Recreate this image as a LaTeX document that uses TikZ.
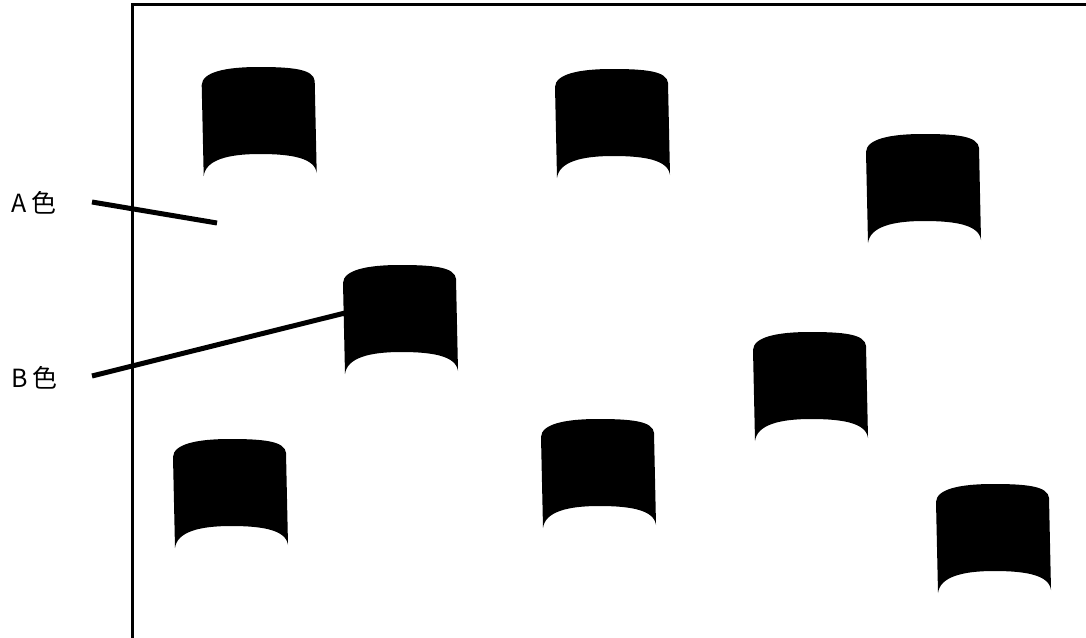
\documentclass[tikz,border=0pt]{standalone}
\usepackage{fontspec}
\newfontfamily\jpfont{Noto Sans CJK JP}
\begin{document}
\begin{tikzpicture}[x=1pt,y=-1pt,
  cup/.pic={\fill[black] (0,0) .. controls (0.5,-13) and (24,-18) .. (57,-18)
     .. controls (90,-18) and (112,-16) .. (113,-4) -- (115,88)
     .. controls (113,73) and (90,69) .. (58,69)
     .. controls (26,69) and (4,75) .. (2,91) -- cycle;},
  lbl/.style={font=\jpfont\fontsize{25}{25}\selectfont, inner sep=0pt},
  leader/.style={line width=5pt}]
\useasboundingbox (0,0) rectangle (1086,637);
\clip (0,0) rectangle (1086,637);
\fill[white] (0,0) rectangle (1086,637);
% frame
\draw[line width=3pt] (132.5,700) -- (132.5,4.5) -- (1100,4.5);
% shapes
\pic at (201.7,85) {cup};
\pic at (555,87) {cup};
\pic at (866,152) {cup};
\pic at (343,283) {cup};
\pic at (753,350) {cup};
\pic at (173,457) {cup};
\pic at (541,437) {cup};
\pic at (936,502) {cup};
% labels
\node[lbl, anchor=base west] (A) at (11,212) {A\kern5pt 色};
\node[lbl, anchor=base west] (B) at (11,387) {B\kern5pt 色};
\coordinate (Aend) at (217,223);
\coordinate (Bend) at (345,313);
\draw[leader] (92,202) -- (Aend);
\draw[leader] (92,376) -- (Bend);
\end{tikzpicture}
\end{document}
